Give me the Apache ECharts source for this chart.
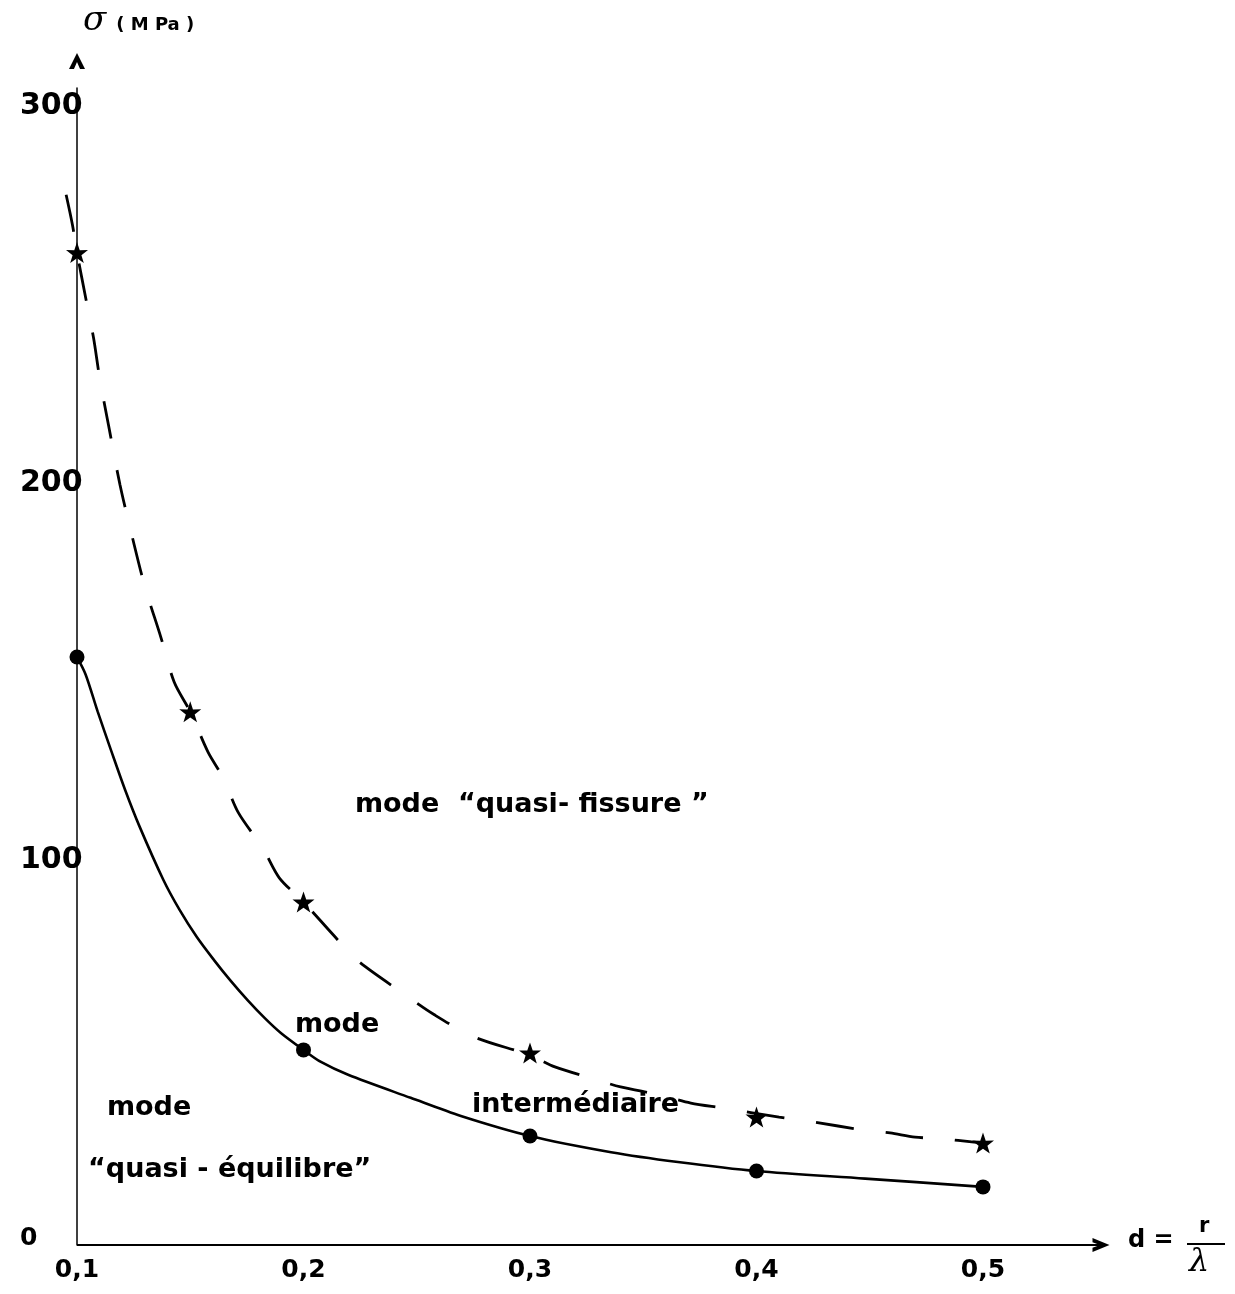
<!DOCTYPE html>
<html><head><meta charset="utf-8">
<script src="https://cdn.jsdelivr.net/npm/echarts@6/dist/echarts.min.js"></script>
<style>html,body{margin:0;padding:0;background:#fff}#c{width:1235px;height:1294px}</style>
</head><body><div id="c"></div>
<script>
// measured points (markers)
const circleX = [0.1, 0.2, 0.3, 0.4, 0.5];
const circleValues = [155.8, 51.7, 28.9, 19.6, 15.4];
const starX = [0.1, 0.15, 0.2, 0.3, 0.4, 0.5];
const starValues = [263, 141.3, 90.9, 50.9, 33.9, 27.0];
// curves
const solidCurveX = [0.1, 0.1038, 0.1091, 0.1152, 0.1213, 0.1274, 0.1381, 0.1453, 0.1529, 0.1605, 0.1676, 0.1753, 0.1828, 0.19, 0.2, 0.2077, 0.2197, 0.2473, 0.2695, 0.3, 0.3358, 0.3653, 0.4, 0.448, 0.5];
const solidCurveY = [155.8, 151.2, 141.4, 130.8, 120.5, 111.2, 96.8, 88.8, 81.6, 75.5, 70.2, 64.9, 60.2, 56.2, 51.7, 48.5, 45.1, 39.0, 34.2, 28.9, 24.6, 22.0, 19.6, 17.6, 15.4];
const dashedCurveX = [0.0952, 0.098, 0.1, 0.104, 0.1073, 0.110, 0.1139, 0.119, 0.1245, 0.130, 0.137, 0.1429, 0.15, 0.1578, 0.1645, 0.1713, 0.182, 0.1893, 0.2, 0.2131, 0.2236, 0.2437, 0.2578, 0.2755, 0.3, 0.311, 0.3266, 0.340, 0.357, 0.371, 0.385, 0.41, 0.425, 0.447, 0.459, 0.470, 0.483, 0.495, 0.5];
const dashedCurveY = [278.3, 270.3, 263, 250.5, 240.4, 229.8, 217.3, 201.4, 187.4, 174.4, 161.1, 149.2, 141.3, 130.7, 123.8, 114.5, 105.2, 97.3, 90.9, 82.2, 75.5, 66.8, 61.0, 55.1, 50.3, 47.2, 44.3, 41.9, 39.8, 37.6, 36.3, 33.9, 32.6, 30.5, 29.7, 28.6, 28.1, 27.3, 27.0];
// tick labels
const xTicks = [0.1, 0.2, 0.3, 0.4, 0.5];
const yTicks = [0, 100, 200, 300];
// axis extents
const xMin = 0.094, xMax = 0.5521, xOrigin = 0.1;
const yMin = 0, yMax = 306.6;
// region annotations
const annotationText = ['mode  \u201Cquasi- fissure \u201D', 'mode', 'interm\u00E9diaire', 'mode', '\u201Cquasi - \u00E9quilibre\u201D'];
const annotationX = [0.2227, 0.1962, 0.2744, 0.1132, 0.1049];
const annotationY = [116.6, 58.3, 37.1, 36.3, 19.9];

const F = 'DejaVu Sans';
const chevron = 'path://M0,10 L5,0 L10,10 L6.9,10 L5,5.6 L3.1,10 Z';
const star = 'path://M50,0 L61.8,35.1 L97.6,34.5 L69.1,56.9 L79.4,90.5 L50,70 L20.6,90.5 L30.9,56.9 L2.4,34.5 L38.2,35.1 Z';
const pairs = (xs, ys) => xs.map((x, i) => [x, ys[i]]);

const W = 1235, gridRightPx = 1101, originPx = 77;
const pxPerUnit = (gridRightPx - originPx) / (xMax - xOrigin);
const gridLeftPx = originPx - (xOrigin - xMin) * pxPerUnit;

const chart = echarts.init(document.getElementById('c'));
chart.setOption({
  animation: false,
  backgroundColor: '#fff',
  grid: { left: gridLeftPx, top: 88, right: W - gridRightPx, bottom: 49 },
  xAxis: {
    type: 'value', min: xMin, max: xMax,
    splitLine: { show: false }, axisTick: { show: false }, axisLine: { show: false },
    axisLabel: { color: '#000', fontFamily: F, fontWeight: 'bold', fontSize: 25, margin: 13,
      customValues: xTicks,
      formatter: v => v.toFixed(1).replace('.', ',') }
  },
  yAxis: {
    type: 'value', min: yMin, max: yMax, interval: 100, offset: -(originPx - gridLeftPx),
    splitLine: { show: false }, axisTick: { show: false },
    axisLine: { onZero: false, lineStyle: { color: '#000', width: 1.5 },
      symbol: ['none', chevron], symbolSize: [17, 16], symbolOffset: [0, 27] },
    axisLabel: { color: '#000', fontFamily: F, fontWeight: 'bold', fontSize: 30, margin: 57,
      align: 'left', verticalAlign: 'middle', padding: [0, 0, 14, 0], showMaxLabel: false,
      formatter: v => v === 0 ? '{z|0}' : (yTicks.indexOf(v) >= 0 ? String(v) : ''),
      rich: { z: { fontFamily: F, fontWeight: 'bold', fontSize: 25, color: '#000' } } },
    name: '{s|\u03C3}   {u|( M Pa )}', nameLocation: 'end', nameGap: 50,
    nameTextStyle: { align: 'left', padding: [0, 0, 0, 6],
      rich: { s: { fontFamily: 'DejaVu Serif', fontStyle: 'italic', fontSize: 34, color: '#000' },
              u: { fontFamily: F, fontWeight: 'bold', fontSize: 18, color: '#000', padding: [8, 0, 0, 0] } } }
  },
  series: [
    { type: 'line', data: pairs(solidCurveX, solidCurveY), symbol: 'none', smooth: 0.3,
      lineStyle: { color: '#000', width: 2.6 }, z: 3 },
    { type: 'line', data: pairs(dashedCurveX, dashedCurveY), symbol: 'none', smooth: 0.3,
      lineStyle: { color: '#000', width: 2.8, type: [38, 32] }, z: 3 },
    { type: 'scatter', data: pairs(circleX, circleValues), symbol: 'circle', symbolSize: 15,
      itemStyle: { color: '#000', opacity: 1 }, z: 4 },
    { type: 'scatter', data: pairs(starX, starValues), symbol: star, symbolSize: [22, 21],
      itemStyle: { color: '#000', opacity: 1 }, z: 4 },
    { type: 'scatter', data: pairs(annotationX, annotationY).map((p, i) => ({ value: p, name: annotationText[i] })),
      symbolSize: 0, silent: true, itemStyle: { opacity: 1 }, clip: false,
      label: { show: true, position: 'right', distance: 0, formatter: p => p.name,
        color: '#000', fontFamily: F, fontWeight: 'bold', fontSize: 27 }, z: 5,
      markLine: { silent: true, animation: false, symbol: ['none', chevron], symbolSize: [14, 17],
        label: { show: false }, lineStyle: { color: '#000', width: 2, type: 'solid' },
        emphasis: { disabled: true },
        data: [[{ coord: [xOrigin, yMin] }, { coord: [xMax, yMin] }]] } }
  ],
  graphic: [
    { type: 'text', left: 1128, top: 1229, style: { text: 'd =', fontFamily: F, fontWeight: 'bold', fontSize: 24, fill: '#000' } },
    { type: 'line', shape: { x1: 1187, y1: 1244, x2: 1225, y2: 1244 }, style: { stroke: '#000', lineWidth: 2 } },
    { type: 'text', left: 1199, top: 1216, style: { text: 'r', fontFamily: F, fontWeight: 'bold', fontSize: 21, fill: '#000' } },
    { type: 'text', left: 1189, top: 1247, style: { text: '\u03BB', fontFamily: 'DejaVu Serif', fontStyle: 'italic', fontSize: 32, fill: '#000' } }
  ]
});
</script></body></html>
